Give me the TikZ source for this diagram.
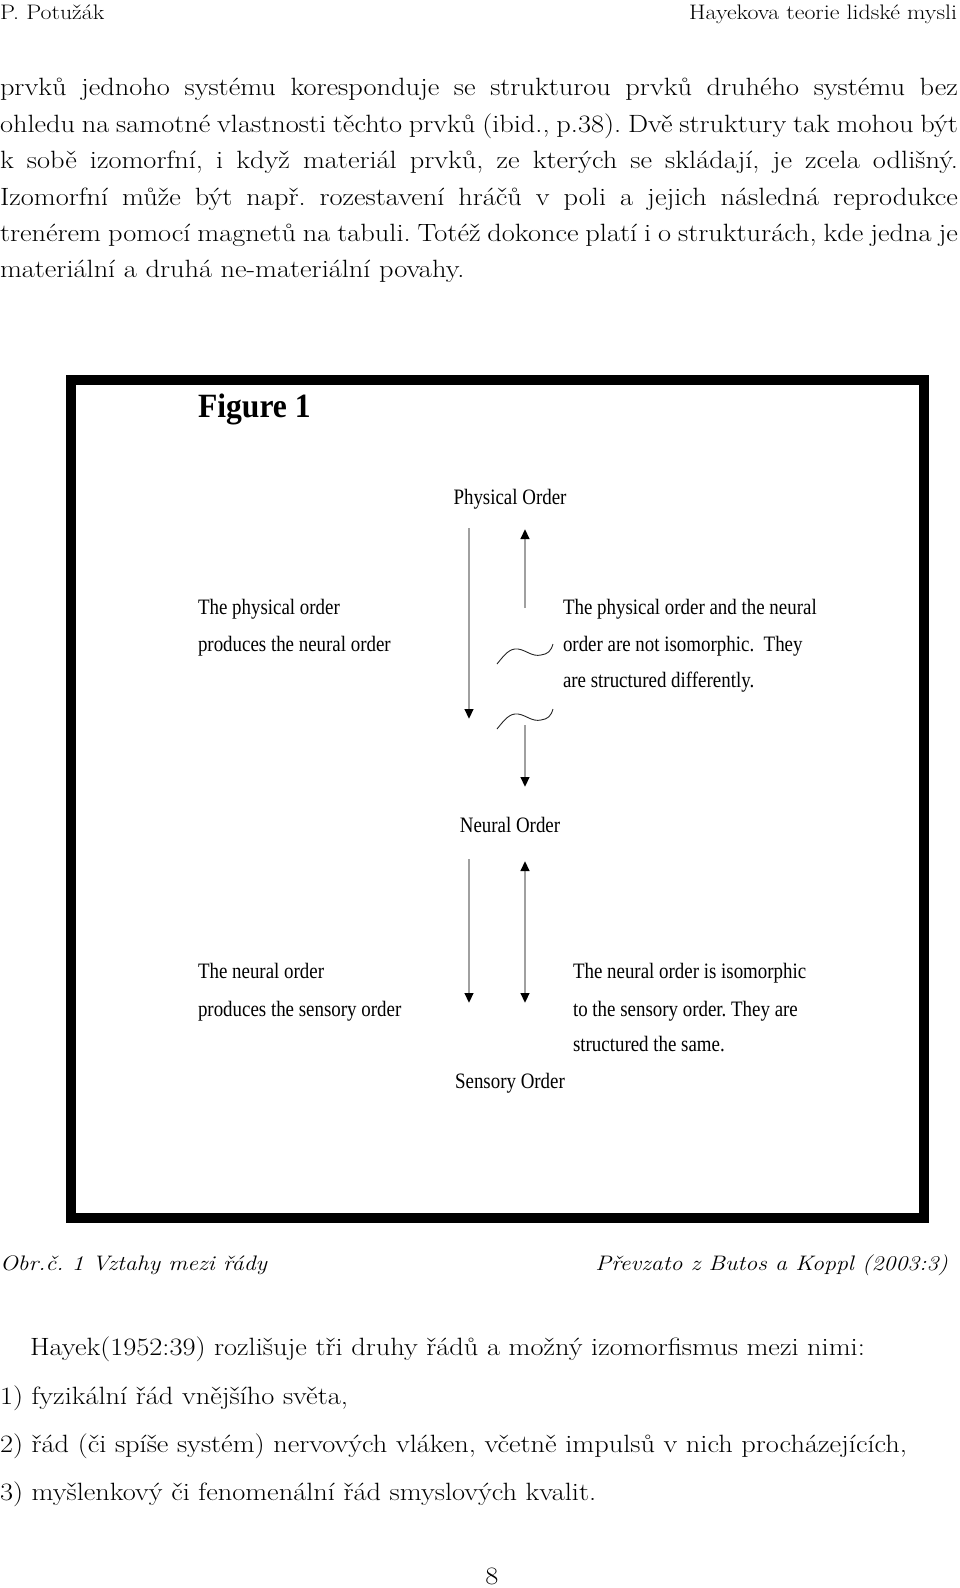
\documentclass[tikz,border=0pt]{standalone}
\usepackage{fontspec}
\usepackage{tikz}
\usetikzlibrary{arrows.meta}
\setmainfont{Latin Modern Roman}[FakeStretch=1.135]
\newfontfamily\figfont[FakeStretch=0.86]{Liberation Serif}
\newfontfamily\figbold[FakeStretch=0.93]{Liberation Serif Bold}
\definecolor{arrgray}{RGB}{160,160,160}
\frenchspacing

\begin{document}
\begin{tikzpicture}[
  x=1pt, y=-1pt,
  every node/.style={inner sep=0pt, outer sep=0pt},
  body/.style={anchor=base west, font=\fontsize{25}{30}\selectfont},
  head/.style={font=\fontsize{21}{25}\selectfont},
  captxt/.style={anchor=base, font=\fontsize{21}{25}\selectfont\itshape},
  ord/.style={anchor=base, font=\figfont\fontsize{22}{26}\selectfont},
  note/.style={anchor=base west, font=\figfont\fontsize{22}{26}\selectfont},
  arr/.style={draw=arrgray, line width=2.6pt,
    -{Triangle[length=10pt, width=8.5pt, color=black]}},
  wave/.style={draw=black!85, line width=0.9pt}
]
  \useasboundingbox (0,0) rectangle (960,1588);
  \node[head, anchor=base west] (author) at (0,19) {P. Potužák};
  \node[head, anchor=base east] (title) at (957,19) {Hayekova teorie lidské mysli};
  \foreach \y/\t [count=\i] in {
    95/{prvků jednoho systému koresponduje se strukturou prvků druhého systému bez},
    132/{ohledu na samotné vlastnosti těchto prvků (ibid., p.38). Dvě struktury tak mohou být},
    168/{k sobě izomorfní, i když materiál prvků, ze kterých se skládají, je zcela odlišný.},
    205/{Izomorfní může být např. rozestavení hráčů v poli a jejich následná reprodukce},
    241/{trenérem pomocí magnetů na tabuli. Totéž dokonce platí i o strukturách, kde jedna je}} {
    \node[body] (par\i) at (0,\y) {\makebox[958pt][s]{\t}};
  }
  \node[body] (par6) at (0,277) {materiální a druhá ne-materiální povahy.};

  \draw[line width=10pt] (71,380) rectangle (924,1218);
  \node[anchor=base west, font=\figbold\fontsize{34}{38}\selectfont]
    (fig) at (198,417) {Figure 1};

  \node[ord] (phys) at (510,504) {Physical Order};
  \node[ord] (neural) at (510,832) {Neural Order};
  \node[ord] (sens) at (510,1088) {Sensory Order};

  \coordinate (pa) at (469,528);  \coordinate (pb) at (469,719);
  \coordinate (pc) at (525,608);  \coordinate (pd) at (525,529);
  \coordinate (pe) at (525,725);  \coordinate (pf) at (525,787);
  \coordinate (na) at (469,859);  \coordinate (nb) at (469,1003);
  \coordinate (nc) at (525,861);  \coordinate (nd) at (525,1003);
  \draw[arr] (pa) -- (pb);
  \draw[arr] (pc) -- (pd);
  \draw[arr] (pe) -- (pf);
  \draw[arr] (na) -- (nb);
  \draw[arr, {Triangle[length=10pt, width=8.5pt, color=black]}-{Triangle[length=10pt, width=8.5pt, color=black]}]
    (nc) -- (nd);

  \foreach \dy in {0,65} {
    \draw[wave, yshift=-\dy pt] (497,664) .. controls (505,654) and (510,648) .. (518,649)
      .. controls (526,650) and (532,657) .. (541,655)
      .. controls (548,654) and (551,651) .. (553,644);
  }

  \node[note] (pl1) at (198,614) {The physical order};
  \node[note] (pl2) at (198,651) {produces the neural order};
  \node[note] (pr1) at (563,614) {The physical order and the neural};
  \node[note] (pr2) at (563,651) {order are not isomorphic.\ \ They};
  \node[note] (pr3) at (563,687) {are structured differently.};
  \node[note] (nl1) at (198,978) {The neural order};
  \node[note] (nl2) at (198,1016) {produces the sensory order};
  \node[note] (nr1) at (573,978) {The neural order is isomorphic};
  \node[note] (nr2) at (573,1016) {to the sensory order. They are};
  \node[note] (nr3) at (573,1051) {structured the same.};

  \node[captxt, anchor=base west] (obr) at (0,1270) {Obr.č. 1 Vztahy mezi řády};
  \node[captxt, anchor=base east] (src) at (948,1270) {Převzato z Butos a Koppl (2003:3)};

  \node[body] (hay) at (30,1355) {Hayek(1952:39) rozlišuje tři druhy řádů a možný izomorfismus mezi nimi:};
  \node[body] (it1) at (0,1404) {1) fyzikální řád vnějšího světa,};
  \node[body] (it2) at (0,1452) {2) řád (či spíše systém) nervových vláken, včetně impulsů v nich procházejících,};
  \node[body] (it3) at (0,1500) {3) myšlenkový či fenomenální řád smyslových kvalit.};
  \node[body, anchor=base] (page) at (492,1584) {8};
\end{tikzpicture}
\end{document}
